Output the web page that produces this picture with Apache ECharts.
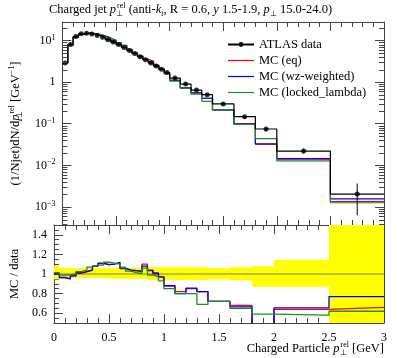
<!DOCTYPE html>
<html><head><meta charset="utf-8">
<script src="https://cdn.jsdelivr.net/npm/echarts@6/dist/echarts.min.js"></script>
<style>html,body{margin:0;padding:0;background:#fff}#c{width:397px;height:358px}</style>
</head><body><div id="c"></div>
<script>
// ---- data ----
const binEdges = [0,0.05,0.1,0.15,0.2,0.25,0.3,0.35,0.4,0.45,0.5,0.55,0.6,0.65,0.7,0.75,0.8,0.85,0.9,0.95,1.0,1.1,1.2,1.3,1.4,1.6,1.8,2.0,2.5,3.0];
const atlasData = [2.9,8.0,12.5,14.5,14.9,14.3,13.2,11.9,10.5,9.2,8.0,6.8,5.75,4.85,4.1,3.45,2.9,2.45,2.05,1.7,1.25,0.90,0.645,0.50,0.30,0.148,0.0747,0.0221,0.00204];
const dataErrUp = [0.085,0.065,0.06,0.06,0.06,0.06,0.06,0.06,0.06,0.06,0.06,0.065,0.065,0.065,0.065,0.065,0.065,0.07,0.07,0.07,0.07,0.07,0.07,0.07,0.06,0.07,0.08,0.145,0.8];
const dataErrDn = [0.055,0.045,0.045,0.04,0.04,0.04,0.04,0.04,0.04,0.045,0.045,0.05,0.05,0.05,0.05,0.05,0.05,0.06,0.06,0.06,0.06,0.06,0.06,0.06,0.055,0.065,0.13,0.13,0.69];
const ratioEq = [1.0,0.96,0.95,0.98,1.01,1.025,1.04,1.08,1.105,1.095,1.10,1.115,1.055,1.04,1.035,1.03,1.10,1.04,1.0,0.97,0.88,0.82,0.85,0.82,0.72,0.68,0.44,0.64,0.66];
const ratioWz = [1.0,0.965,0.95,0.98,1.01,1.025,1.04,1.08,1.11,1.095,1.10,1.12,1.06,1.04,1.035,1.025,1.08,1.035,1.01,0.97,0.88,0.80,0.855,0.82,0.72,0.665,0.435,0.655,0.77];
const ratioLocked = [1.015,0.99,0.99,1.0,1.025,1.04,1.07,1.09,1.09,1.12,1.11,1.10,1.07,1.03,1.015,1.005,1.06,0.99,0.97,0.93,0.85,0.80,0.80,0.69,0.72,0.65,0.59,0.58,0.62];
const legendNames = ['ATLAS data','MC (eq)','MC (wz-weighted)','MC (locked_lambda)'];
const xTickLabels = ['0','0.5','1','1.5','2','2.5','3'];

// ---- derived ----
const mcEq = atlasData.map((d,i)=>d*ratioEq[i]);
const mcWz = atlasData.map((d,i)=>d*ratioWz[i]);
const mcLocked = atlasData.map((d,i)=>d*ratioLocked[i]);
function steps(vals){const p=[];for(let i=0;i<vals.length;i++){p.push([binEdges[i],vals[i]],[binEdges[i+1],vals[i]]);}return p;}
const centers = atlasData.map((d,i)=>[(binEdges[i]+binEdges[i+1])/2,d]);
const errBars = atlasData.map((d,i)=>[(binEdges[i]+binEdges[i+1])/2,d*(1-dataErrDn[i]),d*(1+dataErrUp[i])]);
const band = atlasData.map((d,i)=>[binEdges[i],binEdges[i+1],1-dataErrDn[i],1+dataErrUp[i]]);
const yMin = Math.pow(10,-3.433), yMax = Math.pow(10,1.445);
const minorLog=[];for(let k=-4;k<=1;k++){for(let m=2;m<=9;m++){const v=m*Math.pow(10,k);if(v>yMin&&v<yMax)minorLog.push([0,v]);}}

const F = 'Liberation Serif';
const frame = '#444';
const cRed='#ff0000', cBlue='#0000ff', cGreen='#1e8c1e';
const lineIcon = 'path://M0,0H26V1.2H0Z';

function xAx(g,pos,lab){return {type:'value',gridIndex:g,position:pos,min:0,max:3,interval:0.5,
  axisLine:{show:true,onZero:false,lineStyle:{color:frame,width:1}},
  axisTick:{show:true,inside:true,length:9,lineStyle:{color:frame}},
  minorTick:{show:true,splitNumber:5,length:5,lineStyle:{color:frame}},
  splitLine:{show:false},
  axisLabel:{show:lab,margin:9,fontFamily:F,fontSize:12,color:'#000',formatter:(v)=>xTickLabels[Math.round(v*2)]}};}
function logAx(pos,lab){return {type:'log',gridIndex:0,position:pos,min:yMin,max:yMax,logBase:10,
  axisLine:{show:true,onZero:false,lineStyle:{color:frame,width:1}},
  axisTick:{show:true,inside:true,length:9,lineStyle:{color:frame}},
  minorTick:{show:false},splitLine:{show:false},
  name: lab?'(1/Njet)dN/d{i|p}{sb|⊥}{sp|rel} [GeV{sp|−1}]':'',nameLocation:'middle',nameGap:31,nameRotate:90,
  nameTextStyle:{fontFamily:F,fontSize:12.5,color:'#000',lineHeight:16,rich:{i:{fontStyle:'italic',fontFamily:F,fontSize:12.5,lineHeight:16},sb:{fontSize:8,fontFamily:F,verticalAlign:'bottom',lineHeight:8,width:1},sp:{fontSize:8,fontFamily:F,verticalAlign:'top',lineHeight:8}}},
  axisLabel:{show:lab,showMinLabel:false,showMaxLabel:false,margin:7,fontFamily:F,fontSize:12,color:'#000',lineHeight:14,
    formatter:(v)=>{const l=Math.log10(v);const e=Math.round(l);if(Math.abs(l-e)>0.01)return '';if(e===0)return '1';return '10{sp|'+(e<0?'−':'')+Math.abs(e)+'}';},
    rich:{sp:{fontSize:8,fontFamily:F,verticalAlign:'top',lineHeight:8}}}};}
function ratAx(pos,lab){return {type:'value',gridIndex:1,position:pos,min:0.5,max:1.5,splitNumber:5,
  axisLine:{show:true,onZero:false,lineStyle:{color:frame,width:1}},
  axisTick:{show:true,inside:true,length:9,lineStyle:{color:frame}},
  minorTick:{show:true,splitNumber:4,length:5,lineStyle:{color:frame}},
  splitLine:{show:false},
  name: lab?'MC / data':'',nameLocation:'middle',nameGap:31,nameRotate:90,nameTextStyle:{fontFamily:F,fontSize:12.5,color:'#000'},
  axisLabel:{show:lab,showMinLabel:false,showMaxLabel:false,margin:7,fontFamily:F,fontSize:12,color:'#000',formatter:(v)=>String(+v.toFixed(1))}};}

const richT = {i:{fontStyle:'italic',fontFamily:F,fontSize:12.5,lineHeight:16},
  sb:{fontSize:8,fontFamily:F,verticalAlign:'bottom',lineHeight:8,width:1},
  sb2:{fontSize:8,fontFamily:F,verticalAlign:'bottom',lineHeight:8},
  sbi:{fontSize:8,fontFamily:F,fontStyle:'italic',verticalAlign:'bottom',lineHeight:8},
  sp:{fontSize:8,fontFamily:F,verticalAlign:'top',lineHeight:8}};

const chart = echarts.init(document.getElementById('c'),null,{renderer:'canvas'});
chart.setOption({
  animation:false,
  backgroundColor:'#fff',
  title:[
    {text:'Charged jet {i|p}{sb|⊥}{sp|rel} (anti-{i|k}{sbi|t}, R = 0.6, {i|y} 1.5-1.9, {i|p}{sb2|⊥} 15.0-24.0)',left:49,top:2,padding:0,
     textStyle:{fontFamily:F,fontSize:12.5,fontWeight:'normal',color:'#000',lineHeight:16,rich:richT}},
    {text:'Charged Particle {i|p}{sb|⊥}{sp|rel} [GeV]',right:13,top:341,padding:0,
     textStyle:{fontFamily:F,fontSize:12.5,fontWeight:'normal',color:'#000',lineHeight:16,rich:richT}}
  ],
  legend:{left:227,top:36.5,orient:'vertical',itemWidth:26,itemHeight:6,itemGap:0,padding:0,selectedMode:false,
    textStyle:{fontFamily:F,fontSize:12.5,color:'#000',lineHeight:16},
    data:[{name:legendNames[0]},
      {name:legendNames[1],icon:lineIcon,symbolKeepAspect:true},
      {name:legendNames[2],icon:lineIcon,symbolKeepAspect:true},
      {name:legendNames[3],icon:lineIcon,symbolKeepAspect:true}]},
  grid:[{left:49,right:13,top:22,height:203},{left:49,right:13,top:225,height:98}],
  xAxis:[xAx(0,'bottom',false),xAx(0,'top',false),xAx(1,'bottom',true),xAx(1,'top',false)],
  yAxis:[logAx('left',true),logAx('right',false),ratAx('left',true),ratAx('right',false)],
  series:[
    {type:'custom',xAxisIndex:0,yAxisIndex:0,data:minorLog,encode:{x:0,y:1},silent:true,z:5,
     renderItem:(p,api)=>{const v=api.value(1);const a=api.coord([0,v]);const b=api.coord([3,v]);const y=Math.round(a[1])+0.5;
       return {type:'group',children:[
        {type:'line',shape:{x1:a[0],y1:y,x2:a[0]+5,y2:y},style:{stroke:frame,lineWidth:1}},
        {type:'line',shape:{x1:b[0],y1:y,x2:b[0]-5,y2:y},style:{stroke:frame,lineWidth:1}}]};}},
    {name:'MC (eq)',type:'line',xAxisIndex:0,yAxisIndex:0,data:steps(mcEq),symbol:'none',lineStyle:{color:cRed,width:1.2},itemStyle:{color:cRed},z:3},
    {name:'MC (wz-weighted)',type:'line',xAxisIndex:0,yAxisIndex:0,data:steps(mcWz),symbol:'none',lineStyle:{color:cBlue,width:1.2},itemStyle:{color:cBlue},z:3},
    {name:'MC (locked_lambda)',type:'line',xAxisIndex:0,yAxisIndex:0,data:steps(mcLocked),symbol:'none',lineStyle:{color:cGreen,width:1.2},itemStyle:{color:cGreen},z:3},
    {name:'ATLAS data',type:'line',xAxisIndex:0,yAxisIndex:0,data:steps(atlasData),symbol:'circle',symbolSize:5,showSymbol:false,lineStyle:{color:'#000',width:1.2},itemStyle:{color:'#000'},z:4},
    {type:'scatter',xAxisIndex:0,yAxisIndex:0,data:centers,symbol:'circle',symbolSize:5,itemStyle:{color:'#000'},z:4,silent:true},
    {type:'custom',xAxisIndex:0,yAxisIndex:0,data:errBars,encode:{x:0,y:[1,2]},z:4,silent:true,
     renderItem:(p,api)=>{const a=api.coord([api.value(0),api.value(1)]);const b=api.coord([api.value(0),api.value(2)]);
       return {type:'line',shape:{x1:a[0],y1:a[1],x2:b[0],y2:b[1]},style:{stroke:'#000',lineWidth:1}};}},
    {type:'custom',xAxisIndex:2,yAxisIndex:2,data:band,encode:{x:[0,1],y:[2,3]},z:1,silent:true,
     renderItem:(p,api)=>{const lo=Math.max(0.5,api.value(2)),hi=Math.min(1.5,api.value(3));
       const a=api.coord([api.value(0),hi]);const b=api.coord([api.value(1),lo]);
       return {type:'rect',shape:{x:a[0],y:a[1],width:b[0]-a[0],height:b[1]-a[1]},style:{fill:'#ffff00'}};}},
    {type:'line',xAxisIndex:2,yAxisIndex:2,data:[[0,1],[3,1]],symbol:'none',lineStyle:{color:'#80803a',width:1},z:2,silent:true},
    {name:'MC (eq)',type:'line',xAxisIndex:2,yAxisIndex:2,data:steps(ratioEq),symbol:'none',lineStyle:{color:cRed,width:1.3},itemStyle:{color:cRed},z:3},
    {name:'MC (wz-weighted)',type:'line',xAxisIndex:2,yAxisIndex:2,data:steps(ratioWz),symbol:'none',lineStyle:{color:cBlue,width:1.3},itemStyle:{color:cBlue},z:3},
    {name:'MC (locked_lambda)',type:'line',xAxisIndex:2,yAxisIndex:2,data:steps(ratioLocked),symbol:'none',lineStyle:{color:cGreen,width:1.3},itemStyle:{color:cGreen},z:3}
  ]
});
</script></body></html>
